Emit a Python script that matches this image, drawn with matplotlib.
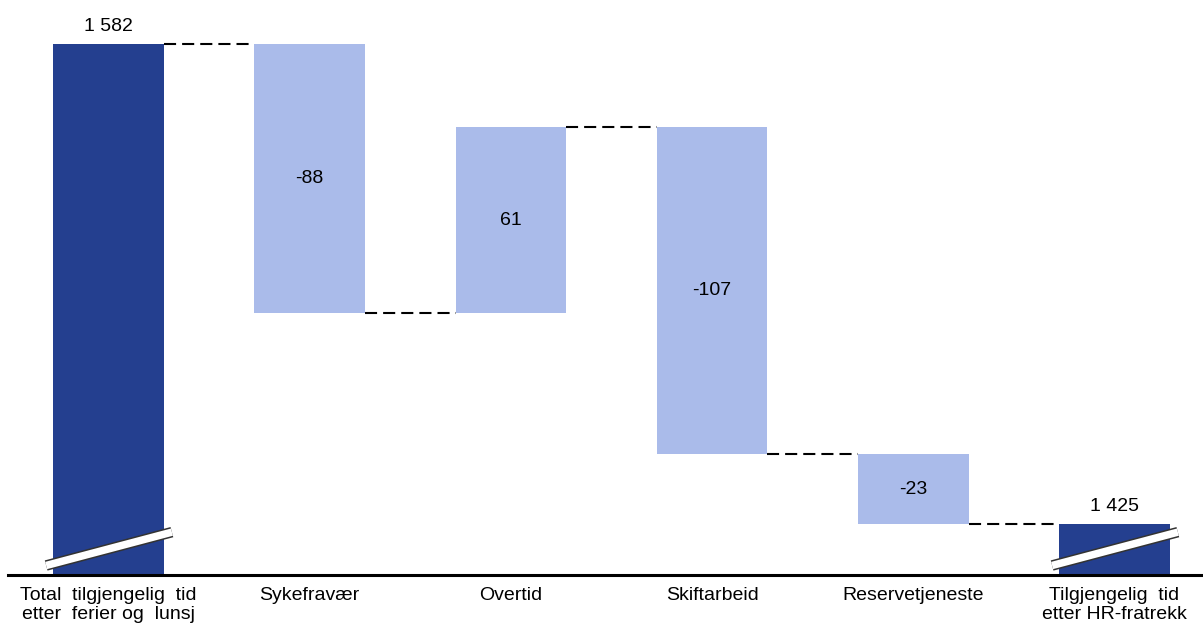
import matplotlib.pyplot as plt
import numpy as np

# data
kategorier = ["Total  tilgjengelig  tid\netter  ferier og  lunsj", "Sykefravær", "Overtid",
              "Skiftarbeid", "Reservetjeneste", "Tilgjengelig  tid\netter HR-fratrekk"]
start_total = 1582
endringer = [-88, 61, -107, -23]
slutt_total = 1425

def fmt(v):
    return f"{v:,}".replace(",", " ")

plt.rcParams['font.family'] = ['Liberation Sans', 'DejaVu Sans']

fig = plt.figure(figsize=(12.03, 6.26), dpi=100)
ax = fig.add_axes([0.0066, 0.0815, 0.9934, 0.9185])

ymin, ymax = 1408.5, 1596.4
ax.set_ylim(ymin, ymax)
ax.set_xlim(-0.5, 5.44)

bredde = 0.55
mork = "#243F8F"
lys = "#AABBEA"

x = np.arange(len(kategorier))

# totalsøyler
ax.bar(x[0], start_total - ymin, bottom=ymin, width=bredde, color=mork, zorder=2)
ax.bar(x[-1], slutt_total - ymin, bottom=ymin, width=bredde, color=mork, zorder=2)
ax.text(x[0], start_total + 3, fmt(start_total), ha="center", va="bottom", fontsize=14)
ax.text(x[-1], slutt_total + 3, fmt(slutt_total), ha="center", va="bottom", fontsize=14)

# endringer
nivaa = [start_total]
for e in endringer:
    nivaa.append(nivaa[-1] + e)

for i, e in enumerate(endringer):
    lav = min(nivaa[i], nivaa[i + 1])
    ax.bar(x[i + 1], abs(e), bottom=lav, width=bredde, color=lys, zorder=2)
    ax.text(x[i + 1], lav + abs(e) / 2, str(e), ha="center", va="center", fontsize=14)

# stiplede forbindelser
for i, n in enumerate(nivaa):
    ax.plot([x[i] + bredde / 2, x[i + 1] - bredde / 2], [n, n], color="black",
            lw=1.5, dashes=(5.8, 2.9), zorder=1)

# brudd-markering
for xi in (x[0], x[-1]):
    xs = [xi - bredde / 2 - 0.035, xi + bredde / 2 + 0.04]
    ys = [1411.6, 1422.5]
    ax.plot(xs, ys, color="#333333", lw=7.6, solid_capstyle="butt", zorder=3)
    ax.plot(xs, ys, color="white", lw=5.4, solid_capstyle="butt", zorder=4)

for s in ["top", "right", "left"]:
    ax.spines[s].set_visible(False)
ax.spines["bottom"].set_linewidth(2.2)
ax.set_yticks([])
ax.set_xticks(x)
ax.set_xticklabels(kategorier, fontsize=14, linespacing=1.15)
ax.tick_params(axis="x", length=0, pad=9)

fig.savefig("out.png", dpi=100)
